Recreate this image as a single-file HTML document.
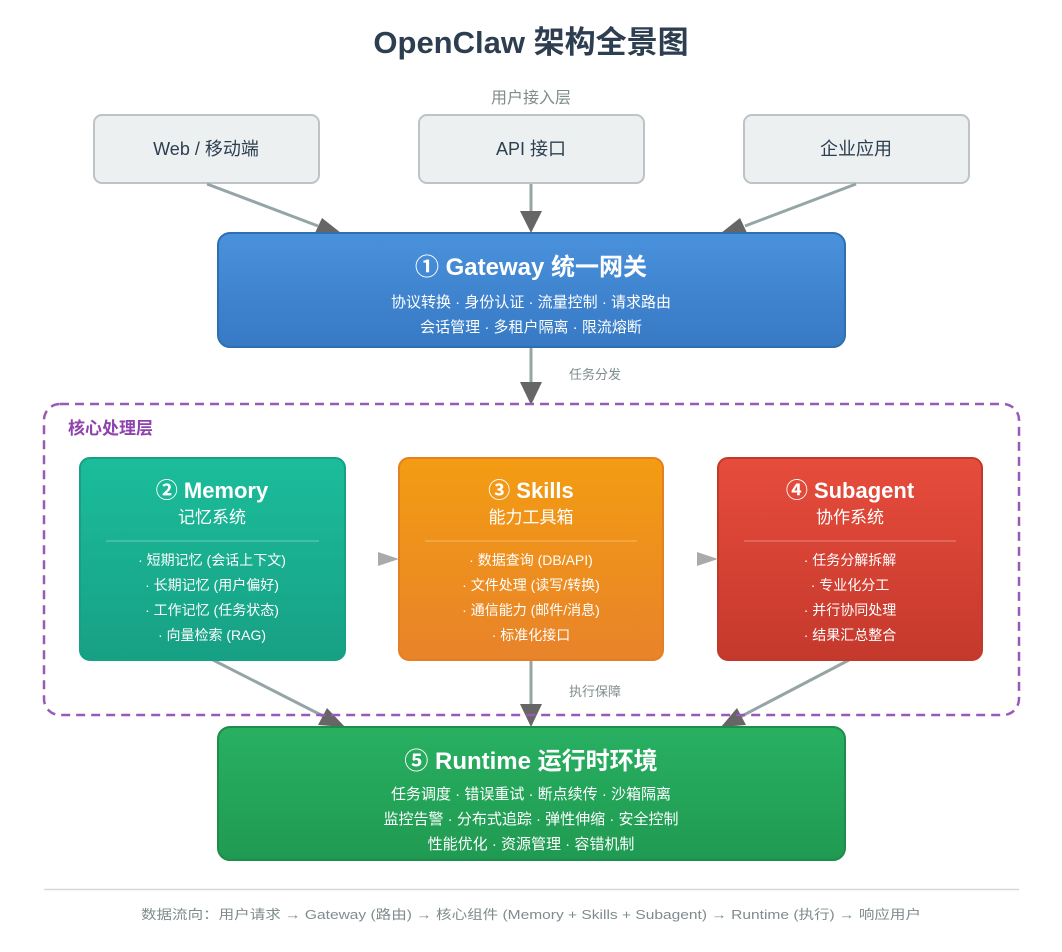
<!DOCTYPE html>
<html><head><meta charset="utf-8"><style>
html,body{margin:0;padding:0;background:#fff;}
svg{display:block;font-family:"Liberation Sans","Noto Sans CJK SC",sans-serif;}
</style></head><body>
<svg width="1062" height="952" viewBox="0 0 1062 952" xmlns="http://www.w3.org/2000/svg">
<defs>
<linearGradient id="gb" x1="0" y1="0" x2="0" y2="1"><stop offset="0" stop-color="#4a91dc"/><stop offset="1" stop-color="#3779c4"/></linearGradient>
<linearGradient id="gt" x1="0" y1="0" x2="0" y2="1"><stop offset="0" stop-color="#1bbd9b"/><stop offset="1" stop-color="#17a084"/></linearGradient>
<linearGradient id="go" x1="0" y1="0" x2="0" y2="1"><stop offset="0" stop-color="#f39c12"/><stop offset="1" stop-color="#e8832a"/></linearGradient>
<linearGradient id="gr" x1="0" y1="0" x2="0" y2="1"><stop offset="0" stop-color="#e74c3c"/><stop offset="1" stop-color="#c4392c"/></linearGradient>
<linearGradient id="gg" x1="0" y1="0" x2="0" y2="1"><stop offset="0" stop-color="#28b061"/><stop offset="1" stop-color="#209a52"/></linearGradient>
<marker id="ah" markerWidth="10" markerHeight="8" refX="9" refY="4" orient="auto" markerUnits="userSpaceOnUse" viewBox="0 0 10 8"><path d="M0,0 L10,4 L0,8z" fill="#666"/></marker>
</defs>
<text x="531" y="53" text-anchor="middle" font-size="31" font-weight="bold" fill="#2c3e50">OpenClaw 架构全景图</text>
<text x="531" y="103" text-anchor="middle" font-size="16" fill="#7f8c8d">用户接入层</text>
<g fill="#ecf0f1" stroke="#bdc3c7" stroke-width="2">
<rect x="94" y="115" width="225" height="68" rx="8"/>
<rect x="419" y="115" width="225" height="68" rx="8"/>
<rect x="744" y="115" width="225" height="68" rx="8"/>
</g>
<g font-size="18" fill="#2c3e50" text-anchor="middle">
<text x="206" y="155">Web / 移动端</text>
<text x="531" y="155">API 接口</text>
<text x="856" y="155">企业应用</text>
</g>
<g stroke="#95a5a6" stroke-width="3">
<line x1="207" y1="184" x2="318" y2="226"/>
<line x1="531" y1="184" x2="531" y2="214"/>
<line x1="856" y1="184" x2="745" y2="226"/>
<line x1="531" y1="348" x2="531" y2="384"/>
<line x1="213" y1="660" x2="325" y2="717"/>
<line x1="531" y1="660" x2="531" y2="706"/>
<line x1="849" y1="660" x2="740" y2="717"/>
</g>
<g fill="#666">
<path d="M341,233 L314,235 L322,218z"/>
<path d="M531,233 L520,211 L542,211z"/>
<path d="M721,233 L740,218 L748,235z"/>
<path d="M531,405 L520,382 L542,382z"/>
<path d="M345,727 L318,725 L327,708z"/>
<path d="M531,727 L520,704 L542,704z"/>
<path d="M721,727 L737,708 L746,725z"/>
</g>
<rect x="218" y="233" width="627" height="114" rx="12" fill="url(#gb)" stroke="#2f6fb0" stroke-width="2"/>
<g fill="#fff" text-anchor="middle">
<text x="531" y="275" font-size="24" font-weight="bold">① Gateway 统一网关</text>
<text x="531" y="307" font-size="15">协议转换 · 身份认证 · 流量控制 · 请求路由</text>
<text x="531" y="332" font-size="15">会话管理 · 多租户隔离 · 限流熔断</text>
</g>
<text x="569" y="379" font-size="13" fill="#7f8c8d">任务分发</text>
<rect x="44" y="404" width="975" height="311" rx="16" fill="none" stroke="#9b59b6" stroke-width="2.5" stroke-dasharray="9,6"/>
<text x="68" y="434" font-size="17" font-weight="bold" fill="#8e44ad">核心处理层</text>

<rect x="80" y="458" width="265" height="202" rx="10" fill="url(#gt)" stroke="#16a085" stroke-width="2"/>
<rect x="399" y="458" width="264" height="202" rx="10" fill="url(#go)" stroke="#e67e22" stroke-width="2"/>
<rect x="718" y="458" width="264" height="202" rx="10" fill="url(#gr)" stroke="#c0392b" stroke-width="2"/>
<g stroke="rgba(255,255,255,0.35)" stroke-width="1">
<line x1="106" y1="541" x2="319" y2="541"/>
<line x1="425" y1="541" x2="637" y2="541"/>
<line x1="744" y1="541" x2="956" y2="541"/>
</g>
<g fill="#aaa">
<path d="M378,552 L399,559 L378,566z"/>
<path d="M697,552 L718,559 L697,566z"/>
</g>
<g fill="#fff" text-anchor="middle">
<text x="212" y="498" font-size="22" font-weight="bold">② Memory</text>
<text x="212" y="523" font-size="17">记忆系统</text>
<text x="212" y="565" font-size="14">· 短期记忆 (会话上下文)</text>
<text x="212" y="590" font-size="14">· 长期记忆 (用户偏好)</text>
<text x="212" y="615" font-size="14">· 工作记忆 (任务状态)</text>
<text x="212" y="640" font-size="14">· 向量检索 (RAG)</text>
<text x="531" y="498" font-size="22" font-weight="bold">③ Skills</text>
<text x="531" y="523" font-size="17">能力工具箱</text>
<text x="531" y="565" font-size="14">· 数据查询 (DB/API)</text>
<text x="531" y="590" font-size="14">· 文件处理 (读写/转换)</text>
<text x="531" y="615" font-size="14">· 通信能力 (邮件/消息)</text>
<text x="531" y="640" font-size="14">· 标准化接口</text>
<text x="850" y="498" font-size="22" font-weight="bold">④ Subagent</text>
<text x="850" y="523" font-size="17">协作系统</text>
<text x="850" y="565" font-size="14">· 任务分解拆解</text>
<text x="850" y="590" font-size="14">· 专业化分工</text>
<text x="850" y="615" font-size="14">· 并行协同处理</text>
<text x="850" y="640" font-size="14">· 结果汇总整合</text>
</g>
<text x="569" y="696" font-size="13" fill="#7f8c8d">执行保障</text>
<rect x="218" y="727" width="627" height="133" rx="12" fill="url(#gg)" stroke="#1e8c4a" stroke-width="2"/>
<g fill="#fff" text-anchor="middle">
<text x="531" y="769" font-size="24" font-weight="bold">⑤ Runtime 运行时环境</text>
<text x="531" y="799" font-size="15">任务调度 · 错误重试 · 断点续传 · 沙箱隔离</text>
<text x="531" y="824" font-size="15">监控告警 · 分布式追踪 · 弹性伸缩 · 安全控制</text>
<text x="531" y="849" font-size="15">性能优化 · 资源管理 · 容错机制</text>
</g>
<line x1="44" y1="889.5" x2="1019" y2="889.5" stroke="#d5d8dc" stroke-width="1.5"/>
<text x="531" y="919" text-anchor="middle" font-size="13" fill="#7f8c8d" textLength="780" lengthAdjust="spacingAndGlyphs">数据流向：用户请求 → Gateway (路由) → 核心组件 (Memory + Skills + Subagent) → Runtime (执行) → 响应用户</text>
</svg>
</body></html>
